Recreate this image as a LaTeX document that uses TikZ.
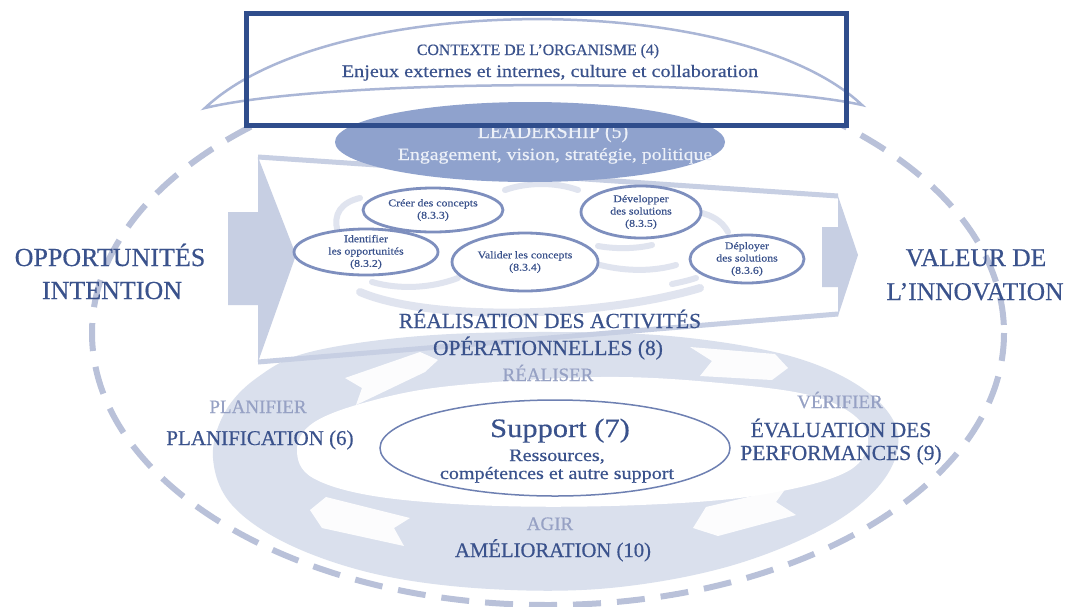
\documentclass[tikz,border=0pt]{standalone}
\usepackage{fontspec}
\setmainfont{Liberation Serif}[FakeBold=0.5]
\newfontfamily\lcf{Liberation Serif}[FakeStretch=1.15,FakeBold=0.5]
\usetikzlibrary{shapes.geometric}
\definecolor{txt}{RGB}{58,82,140}
\definecolor{gtxt}{RGB}{150,161,196}
\definecolor{boxc}{RGB}{47,77,140}
\definecolor{leadc}{RGB}{143,162,205}
\definecolor{leadt}{RGB}{236,240,248}
\definecolor{cresc}{RGB}{170,182,214}
\definecolor{dashc}{RGB}{185,193,217}
\definecolor{arrc}{RGB}{199,207,227}
\definecolor{ellc}{RGB}{126,143,190}
\definecolor{ringc}{RGB}{218,224,237}
\definecolor{swc}{RGB}{224,228,239}
\definecolor{supc}{RGB}{110,128,178}
\begin{document}
\begin{tikzpicture}[x=1pt,y=-1pt,
  every node/.style={inner sep=0pt,align=center},
  lab/.style={anchor=base,text=txt},
  glab/.style={anchor=base,text=gtxt,font=\fontsize{19}{22}\selectfont},
  subell/.style={ellipse,draw=ellc,line width=2.8pt,fill=white},
  smalltxt/.style={text=txt,font=\lcf\fontsize{10.3}{12.3}\selectfont},
  swirl/.style={draw=swc,line width=6pt,line cap=round},
  chev/.style={fill=white,opacity=0.92},
  arredge/.style={draw=arrc,line width=5pt},
]
\useasboundingbox (0,0) rectangle (1070,606);
\fill[white] (0,0) rectangle (1070,606);

% outer dashed ellipse
\draw[dashc,line width=6pt,dash pattern=on 28pt off 16pt] (548,333) ellipse [x radius=456, y radius=272];

% cycle ring
\fill[ringc] plot[smooth cycle,tension=0.6] coordinates {(555,332) (680,337) (790,356) (862,388) (897,430) (885,478) (830,525) (730,566) (610,588) (490,589) (380,575) (290,545) (232,505) (213,458) (225,412) (258,377) (310,352) (420,336)};
\fill[white] plot[smooth cycle,tension=0.6] coordinates {(600,377) (720,383) (820,398) (866,430) (850,470) (760,495) (640,505) (500,506) (380,497) (313,478) (297,450) (313,423) (367,402) (450,386)};

% chevrons on the ring
\fill[chev] (690,347) -- (775,354) -- (788,368) -- (772,380) -- (700,376) -- (712,361) -- cycle;
\fill[chev] (345,378) -- (420,352) -- (438,360) -- (425,372) -- (356,405) -- (362,388) -- cycle;
\fill[chev] (310,510) -- (326,497) -- (410,518) -- (394,528) -- (404,546) -- (322,528) -- cycle;
\fill[chev] (693,528) -- (706,507) -- (786,488) -- (776,502) -- (796,515) -- (718,536) -- cycle;

% support ellipse
\node[ellipse,draw=supc,line width=1.5pt,fill=white,minimum width=350pt,minimum height=96pt] (sup) at (555,448) {};

% big operations arrow
\fill[arrc] (228,212) -- (258,212) -- (258,157) -- (296,255) -- (258,362) -- (258,305) -- (228,305) -- cycle;
\fill[arrc] (822,227) -- (838,227) -- (838,196) -- (858,255) -- (838,316) -- (838,287) -- (822,287) -- cycle;
\coordinate (tl) at (258,157);
\coordinate (tr) at (838,196);
\coordinate (bl) at (258,362);
\coordinate (br) at (838,314);
\draw[arredge] (tl) -- (tr);
\draw[arredge] (br) -- (bl);

% faint swirl inside the arrow
\draw[swirl] (338,232) .. controls (332,214) and (342,202) .. (360,198);
\draw[swirl] (505,190) .. controls (528,182) and (555,182) .. (578,190);
\draw[swirl] (372,282) .. controls (400,290) and (432,288) .. (458,278);
\draw[swirl] (598,246) .. controls (615,249) and (635,249) .. (652,245);
\draw[swirl] (600,265) .. controls (628,272) and (655,271) .. (676,265);
\draw[swirl] (698,212) .. controls (712,215) and (722,221) .. (728,232);
\draw[swirl] (672,284) .. controls (682,282) and (690,280) .. (696,278);
\draw[swirl,line width=8pt] (360,292) .. controls (430,322) and (600,318) .. (700,288);

% sub-process ellipses
\node[subell,minimum width=140pt,minimum height=44pt] (cre) at (433,210) {};
\node[subell,minimum width=144pt,minimum height=46pt] (ide) at (366,252) {};
\node[subell,minimum width=146pt,minimum height=58pt] (val) at (525,262) {};
\node[subell,minimum width=120pt,minimum height=52pt] (dev) at (641,212) {};
\node[subell,minimum width=114pt,minimum height=48pt] (dep) at (747,259) {};
\node[smalltxt] (cret) at (cre.center) {Créer des concepts\\(8.3.3)};
\node[smalltxt] (idet) at (ide.center) {Identifier\\les opportunités\\(8.3.2)};
\node[smalltxt] (valt) at (val.center) {Valider les concepts\\(8.3.4)};
\node[smalltxt] (devt) at (dev.center) {Développer\\des solutions\\(8.3.5)};
\node[smalltxt] (dept) at (dep.center) {Déployer\\des solutions\\(8.3.6)};

% context crescent
\fill[white] (246,13) rectangle (846,125);
\filldraw[fill=white,draw=cresc,line width=2.5pt] (205,108) .. controls (330,-10) and (740,-10) .. (862,105) .. controls (740,78) and (330,78) .. (205,108) -- cycle;

% leadership
\node[ellipse,fill=leadc,minimum width=390pt,minimum height=80pt] (lead) at (530,142) {};
\node[anchor=base,text=leadt,font=\fontsize{20}{22}\selectfont] (lead1) at (553,138) {LEADERSHIP (5)};
\node[anchor=base,text=leadt,font=\lcf\fontsize{17.2}{20}\selectfont] (lead2) at (555,160) {Engagement, vision, stratégie, politique};

% context box
\node[draw=boxc,line width=5pt,minimum width=600pt,minimum height=112pt] (ctx) at (546,69) {};
\node[lab,font=\fontsize{15.8}{18}\selectfont] (ctx1) at (538,55) {CONTEXTE DE L’ORGANISME (4)};
\node[lab,font=\lcf\fontsize{17.6}{20}\selectfont] (ctx2) at (550,77) {Enjeux externes et internes, culture et collaboration};

% side labels
\node[lab,font=\fontsize{26}{30}\selectfont] (opp) at (110,266) {OPPORTUNITÉS};
\node[lab,font=\fontsize{26}{30}\selectfont] (int) at (112,299) {INTENTION};
\node[lab,font=\fontsize{25.5}{30}\selectfont] (val1) at (976,266) {VALEUR DE};
\node[lab,font=\fontsize{25.5}{30}\selectfont] (val2) at (975,300) {L’INNOVATION};

% operations
\node[lab,font=\fontsize{21.5}{24}\selectfont] (rea1) at (550,328) {RÉALISATION DES ACTIVITÉS};
\node[lab,font=\fontsize{21.5}{24}\selectfont] (rea2) at (548,355) {OPÉRATIONNELLES (8)};
\node[glab] (reag) at (548,381) {RÉALISER};

% PDCA labels
\node[glab] (plag) at (258,413) {PLANIFIER};
\node[lab,font=\fontsize{21}{24}\selectfont] (pla) at (260,445) {PLANIFICATION (6)};
\node[glab] (verg) at (840,408) {VÉRIFIER};
\node[lab,font=\fontsize{21.5}{24}\selectfont] (ev1) at (841,437) {ÉVALUATION DES};
\node[lab,font=\fontsize{21.5}{24}\selectfont] (ev2) at (841,460) {PERFORMANCES (9)};
\node[glab] (agg) at (550,530) {AGIR};
\node[lab,font=\fontsize{20.7}{24}\selectfont] (ame) at (553,557) {AMÉLIORATION (10)};

% support texts
\node[lab,font=\lcf\fontsize{26.5}{30}\selectfont] (sup1) at (560,437) {Support (7)};
\node[lab,font=\lcf\fontsize{17.5}{20}\selectfont] (sup2) at (557,461) {Ressources,};
\node[lab,font=\lcf\fontsize{17.5}{20}\selectfont] (sup3) at (557,479) {compétences et autre support};
\end{tikzpicture}
\end{document}
